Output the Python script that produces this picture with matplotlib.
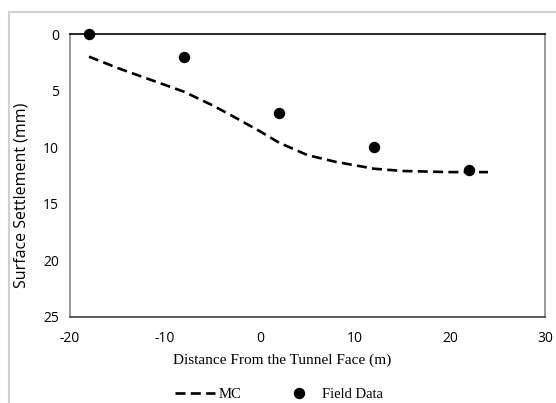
import matplotlib
matplotlib.use("Agg")
import matplotlib.pyplot as plt
from matplotlib.lines import Line2D
from matplotlib.patches import Rectangle

# Field measurements
field_x = [-18, -8, 2, 12, 22]
field_y = [0, 2, 7, 10, 12]

# MC model curve
mc_x = [-18, -15, -13, -10, -8, -5, -3, 0, 2, 5, 8, 10, 12, 15, 20, 24]
mc_y = [2.0, 3.0, 3.6, 4.5, 5.1, 6.3, 7.2, 8.6, 9.6, 10.7, 11.3, 11.6, 11.9, 12.1, 12.2, 12.2]

x_ticks = [-20, -10, 0, 10, 20, 30]
y_ticks = [0, 5, 10, 15, 20, 25]

serif = "Liberation Serif"
sans = "Open Sans"
dash = (0, (3.8, 2.0))

fig = plt.figure(figsize=(5.56, 4.03), dpi=100)
fig.patches.append(Rectangle((9 / 556, -0.1), 1.1, 1 - 12 / 403 + 0.1,
                             transform=fig.transFigure, fill=False,
                             edgecolor="#d0d0d0", linewidth=1.5))

ax = fig.add_axes([70 / 556, 1 - 317 / 403, 475 / 556, 283 / 403])
ax.plot(mc_x, mc_y, color="black", linestyle=dash, linewidth=1.9)
ax.plot(field_x, field_y, linestyle="none", marker="o", color="black",
        markersize=7.2, clip_on=False, zorder=5)

ax.set_xlim(-20, 30)
ax.set_ylim(25, 0)
ax.set_xticks(x_ticks)
ax.set_yticks(y_ticks)
ax.set_xticklabels([f"{t}" for t in x_ticks], fontfamily=sans, fontsize=10)
ax.set_yticklabels([f"{t}" for t in y_ticks], fontfamily=sans, fontsize=10)
ax.tick_params(length=0)
ax.tick_params(axis="x", pad=10)
ax.tick_params(axis="y", pad=8)

ax.spines["top"].set_color("black")
ax.spines["bottom"].set_color("#404040")
ax.spines["left"].set_color("#888888")
ax.spines["right"].set_color("#888888")
for s in ax.spines.values():
    s.set_linewidth(1.2)

ax.set_xlabel("Distance From the Tunnel Face (m)", fontfamily=serif,
              fontsize=11)
ax.xaxis.set_label_coords((282 - 70) / 475, -(354 - 317) / 283)
ax.set_ylabel("Surface Settlement (mm)", fontfamily=sans, fontsize=11.5)
ax.yaxis.set_label_coords(-(70 - 30) / 475, (317 - 195) / 283)

handles = [
    Line2D([], [], color="black", linestyle=dash, linewidth=1.9),
    Line2D([], [], color="black", linestyle="none", marker="o", markersize=7.2),
]
fig.legend(handles, ["MC", "Field Data"], loc="center",
           bbox_to_anchor=(279 / 556, 1 - 394 / 403), ncol=2, frameon=False,
           prop={"family": serif, "size": 10.5}, handlelength=2.75,
           handletextpad=0.2, columnspacing=2.6)

fig.savefig("out.png", dpi=100, facecolor="white")
